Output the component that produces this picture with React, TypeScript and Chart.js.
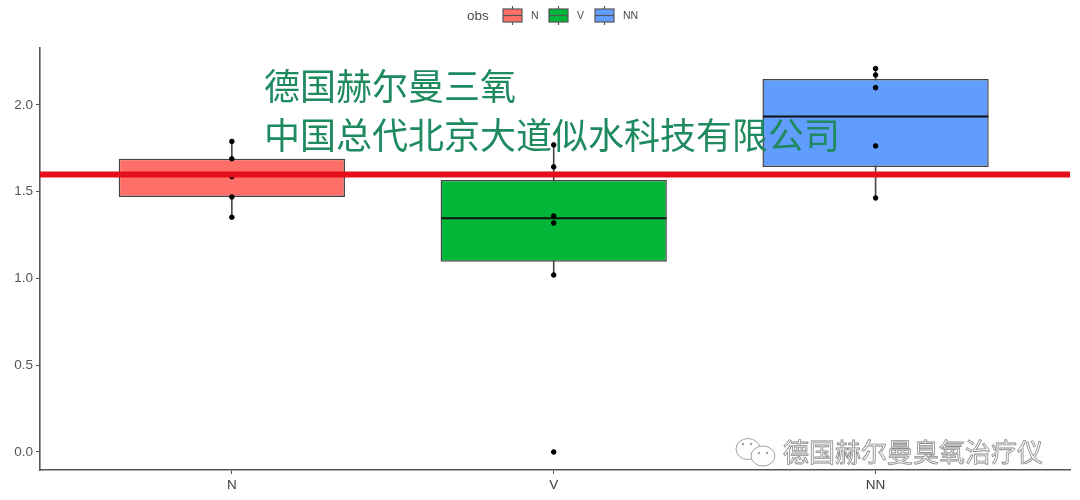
import { useEffect, useRef } from "react";
import { Chart, registerables } from "chart.js";

Chart.register(...registerables);

const categories = ["N", "V", "NN"];
const positions = [1, 2, 3];
const boxColors = ["#ff6f68", "#02b637", "#619cff"];

const q1 = [1.47, 1.097, 1.643];
const medians = [1.59, 1.347, 1.933];
const q3 = [1.69, 1.568, 2.15];
const whiskerLow = [1.353, 1.02, 1.464];
const whiskerHigh = [1.79, 1.77, 2.21];

const pointsN = [1.79, 1.69, 1.587, 1.47, 1.353];
const pointsV = [1.77, 1.643, 1.36, 1.32, 1.02, 0];
const pointsNN = [2.21, 2.173, 2.1, 1.764, 1.464];

const yTicks = [0, 0.5, 1, 1.5, 2];
const refLine = 1.6;
const xMin = 0.404;
const xMax = 3.604;
const boxHalf = 0.35;

const noteLines = ["德国赫尔曼三氧", "中国总代北京大道似水科技有限公司"];
const watermark = "德国赫尔曼臭氧治疗仪";
const legendTitle = "obs";

const segments = (pick: (i: number) => { x: number; y: number }[]) =>
  positions.flatMap((_, i) => [...pick(i), { x: NaN, y: NaN }]);

const overlayPlugin = {
  id: "overlay",
  afterDraw(chart: Chart) {
    const ctx = chart.ctx;
    ctx.save();

    // legend row
    ctx.textBaseline = "middle";
    ctx.fillStyle = "#4a4a4a";
    ctx.font = "13.5px 'Liberation Sans', sans-serif";
    ctx.fillText(legendTitle, 467, 16);
    const keyX = [503, 549, 595];
    categories.forEach((name, i) => {
      const x = keyX[i];
      ctx.strokeStyle = "#555";
      ctx.lineWidth = 1.2;
      ctx.beginPath();
      ctx.moveTo(x + 9.5, 6);
      ctx.lineTo(x + 9.5, 25);
      ctx.stroke();
      ctx.fillStyle = boxColors[i];
      ctx.fillRect(x, 9, 19, 13);
      ctx.strokeRect(x, 9, 19, 13);
      ctx.beginPath();
      ctx.moveTo(x, 15.5);
      ctx.lineTo(x + 19, 15.5);
      ctx.stroke();
      ctx.fillStyle = "#4a4a4a";
      ctx.font = "10.5px 'Liberation Sans', sans-serif";
      ctx.fillText(name, x + 28, 16.5);
    });

    // green note on top of the plot
    ctx.fillStyle = "#1f8a60";
    ctx.font = "36px 'Noto Sans CJK SC', sans-serif";
    ctx.fillText(noteLines[0], 264, 86);
    ctx.fillText(noteLines[1], 264, 135);

    // wechat style watermark
    ctx.strokeStyle = "#a0a0a0";
    ctx.fillStyle = "#ffffff";
    ctx.lineWidth = 1;
    ctx.beginPath();
    ctx.ellipse(748, 449, 12, 10.5, 0, 0, Math.PI * 2);
    ctx.fill();
    ctx.stroke();
    ctx.beginPath();
    ctx.ellipse(763, 456, 12, 10, 0, 0, Math.PI * 2);
    ctx.fill();
    ctx.stroke();
    ctx.fillStyle = "#a0a0a0";
    [[743, 444], [751, 444], [759, 453], [767, 453]].forEach(([x, y]) => {
      ctx.beginPath();
      ctx.arc(x, y, 1.2, 0, Math.PI * 2);
      ctx.fill();
    });
    ctx.font = "26px 'Noto Sans CJK SC', sans-serif";
    ctx.lineWidth = 0.8;
    ctx.strokeStyle = "#8a8a8a";
    ctx.fillStyle = "#ffffff";
    ctx.fillText(watermark, 783, 452);
    ctx.strokeText(watermark, 783, 452);
    ctx.restore();
  },
};

export default function App() {
  const canvasRef = useRef<HTMLCanvasElement | null>(null);

  useEffect(() => {
    if (!canvasRef.current) return;

    const dots = (values: number[], x: number) => values.map((y) => ({ x, y }));

    const chart = new Chart(canvasRef.current, {
      type: "bar",
      data: {
        datasets: [
          {
            type: "line",
            label: "reference",
            data: [
              { x: xMin, y: refLine },
              { x: xMax, y: refLine },
            ],
            borderColor: "#e3101c",
            borderWidth: 6,
            pointRadius: 0,
            order: 0,
          },
          {
            type: "scatter",
            label: "points",
            data: [
              ...dots(pointsN, positions[0]),
              ...dots(pointsV, positions[1]),
              ...dots(pointsNN, positions[2]),
            ],
            backgroundColor: "#000000",
            borderColor: "#000000",
            pointRadius: 2.3,
            order: 1,
          },
          {
            type: "line",
            label: "medians",
            data: segments((i) => [
              { x: positions[i] - boxHalf, y: medians[i] },
              { x: positions[i] + boxHalf, y: medians[i] },
            ]),
            borderColor: "#111111",
            borderWidth: 2,
            pointRadius: 0,
            spanGaps: false,
            order: 2,
          },
          {
            type: "bar",
            label: "boxes",
            data: positions.map((x, i) => ({ x, y: [q1[i], q3[i]] })),
            backgroundColor: boxColors,
            borderColor: "#444444",
            borderWidth: 1.5,
            borderSkipped: false,
            categoryPercentage: 1,
            barPercentage: 0.703,
            order: 3,
          },
          {
            type: "line",
            label: "whiskers",
            data: segments((i) => [
              { x: positions[i], y: whiskerLow[i] },
              { x: positions[i], y: whiskerHigh[i] },
            ]),
            borderColor: "#444444",
            borderWidth: 1.6,
            pointRadius: 0,
            spanGaps: false,
            order: 4,
          },
        ] as any,
      },
      options: {
        animation: false,
        responsive: false,
        maintainAspectRatio: false,
        layout: { padding: { top: 48, right: 10, left: 0, bottom: 0 } },
        plugins: {
          legend: { display: false },
          tooltip: { enabled: false },
        },
        scales: {
          x: {
            type: "linear",
            min: xMin,
            max: xMax,
            offset: false,
            grid: { offset: false, drawOnChartArea: false, drawTicks: true, tickLength: 4, color: "#555" },
            border: { color: "#555", width: 1.6 },
            afterBuildTicks: (scale: any) => {
              scale.ticks = positions.map((value) => ({ value }));
            },
            afterFit: (scale: any) => {
              scale.height = 30;
            },
            ticks: {
              autoSkip: false,
              maxRotation: 0,
              padding: 3,
              color: "#3d3d3d",
              font: { family: "'Liberation Sans', sans-serif", size: 13.5 },
              callback: (value: any) => categories[positions.indexOf(Number(value))] ?? "",
            },
          },
          y: {
            type: "linear",
            min: -0.104,
            max: 2.3285,
            grid: { drawOnChartArea: false, drawTicks: true, tickLength: 4, color: "#555" },
            border: { color: "#555", width: 1.6 },
            afterBuildTicks: (scale: any) => {
              scale.ticks = yTicks.map((value) => ({ value }));
            },
            afterFit: (scale: any) => {
              scale.width = 40;
            },
            ticks: {
              padding: 3,
              color: "#555",
              font: { family: "'Liberation Sans', sans-serif", size: 13.5 },
              callback: (value: any) => Number(value).toFixed(1),
            },
          },
        },
      },
      plugins: [overlayPlugin],
    });

    return () => chart.destroy();
  }, []);

  return (
    <div style={{ position: "fixed", left: 0, top: 0, width: 1080, height: 500, background: "#fff" }}>
      <canvas ref={canvasRef} width={1080} height={500} style={{ display: "block" }} />
    </div>
  );
}
